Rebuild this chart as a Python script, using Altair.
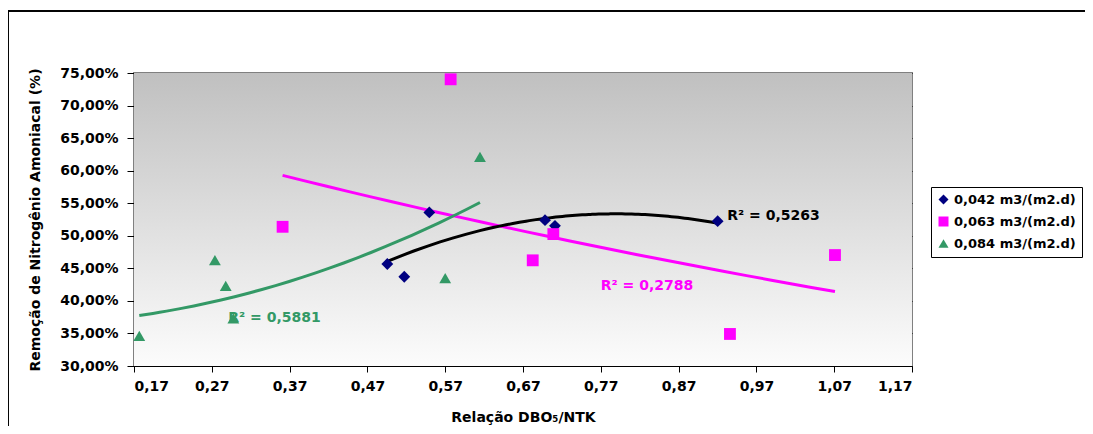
import altair as alt
import pandas as pd

# ---- data ----
series_names = ["0,042 m3/(m2.d)", "0,063 m3/(m2.d)", "0,084 m3/(m2.d)"]

x_042 = [0.4956, 0.5174, 0.5496, 0.6983, 0.7111, 0.9202]
y_042 = [45.66, 43.71, 53.59, 52.40, 51.53, 52.25]

x_063 = [0.361, 0.577, 0.6825, 0.709, 0.936, 1.071]
y_063 = [51.38, 74.03, 46.23, 50.26, 34.92, 47.04]

x_084 = [0.1768, 0.274, 0.2879, 0.2977, 0.570, 0.6147]
y_084 = [34.62, 46.27, 42.29, 37.33, 43.51, 62.12]

x_ticks = [0.17, 0.27, 0.37, 0.47, 0.57, 0.67, 0.77, 0.87, 0.97, 1.07, 1.17]
y_ticks = [30, 35, 40, 45, 50, 55, 60, 65, 70, 75]

r2_texts = ["R² = 0,5263", "R² = 0,2788", "R² = 0,5881"]
r2_x = [0.9326, 0.770, 0.2912]
r2_y = [53.07, 42.29, 37.33]

marker_colors = ["#000080", "#FF00FF", "#339966"]
trend_colors = ["#000000", "#FF00FF", "#339966"]
shapes = ["diamond", "square", "triangle-up"]

rows = []
for name, xs_, ys_ in zip(series_names, [x_042, x_063, x_084], [y_042, y_063, y_084]):
    for a, b in zip(xs_, ys_):
        rows.append({"serie": name, "x": a, "y": b})
df = pd.DataFrame(rows)

lab = pd.DataFrame({"x": r2_x, "y": r2_y, "text": r2_texts, "c": trend_colors})

W, H = 778, 293
PL, PT = 126, 65
PR, PB = 1077 - PL - W, 418 - PT - H
FONT = "DejaVu Sans"
xs = alt.Scale(domain=[0.17, 1.17], nice=False, zero=False)
ys = alt.Scale(domain=[30, 75], nice=False, zero=False)

xaxis = alt.Axis(
    values=x_ticks, title="Relação DBO₅/NTK", grid=False, labelOverlap=False,
    labelExpr="replace(format(datum.value, '.2f'), '.', ',')", titleFontSize=14,
    tickSize=6, labelPadding=7, titlePadding=17, domainColor="black", tickColor="black")
yaxis = alt.Axis(
    values=y_ticks, title="Remoção de Nitrogênio Amoniacal (%)", grid=True, gridColor="black",
    gridWidth=1, labelOverlap=False,
    labelExpr="replace(format(datum.value, '.2f'), '.', ',') + '%'",
    tickSize=7, labelPadding=9, titlePadding=17, domainColor="black", tickColor="black")
xenc = alt.X("x:Q", scale=xs, axis=xaxis)
yenc = alt.Y("y:Q", scale=ys, axis=yaxis)

base = alt.Chart(df)

bg = alt.Chart(lab).mark_rect(
    color=alt.Gradient(gradient="linear", x1=0, x2=0, y1=0, y2=1,
                       stops=[alt.GradientStop(color="#c0c0c0", offset=0),
                              alt.GradientStop(color="#fcfcfc", offset=1)])
).encode(x=alt.value(0), x2=alt.value(W), y=alt.value(0), y2=alt.value(H))

# polynomial (order 2) trends
trend1 = base.transform_filter(alt.datum.serie == series_names[0]).transform_regression(
    "x", "y", method="poly", order=2).mark_line(color=trend_colors[0], strokeWidth=3).encode(x=xenc, y=yenc)
trend3 = base.transform_filter(alt.datum.serie == series_names[2]).transform_regression(
    "x", "y", method="poly", order=2).mark_line(color=trend_colors[2], strokeWidth=3).encode(x=xenc, y=yenc)
# Excel-style exponential trend: least squares on ln(y)
trend2 = base.transform_filter(alt.datum.serie == series_names[1]).transform_calculate(
    ly="log(datum.y)").transform_regression("x", "ly", method="poly", order=1).transform_calculate(
    y="exp(datum.ly)").mark_line(color=trend_colors[1], strokeWidth=3).encode(x=xenc, y=yenc)

points = base.mark_point(filled=True, opacity=1, size=140, strokeWidth=0).encode(
    x=xenc, y=yenc,
    color=alt.Color("serie:N", scale=alt.Scale(domain=series_names, range=marker_colors), title=None),
    shape=alt.Shape("serie:N", scale=alt.Scale(domain=series_names, range=shapes), title=None),
)

labels = alt.Chart(lab).mark_text(align="left", baseline="middle", font=FONT, fontWeight="bold",
                                  fontSize=14).encode(
    x=xenc, y=yenc, text="text:N", color=alt.Color("c:N", scale=None))

frame_top = alt.Chart(lab).mark_rule(color="black", strokeWidth=1.5, clip=False).encode(
    x=alt.value(-126), x2=alt.value(W + PR + 10), y=alt.value(-62))
frame_left = alt.Chart(lab).mark_rule(color="black", strokeWidth=1.5, clip=False).encode(
    x=alt.value(-126), y=alt.value(-62), y2=alt.value(H + PB + 10))

chart = alt.layer(bg, frame_top, frame_left, trend2, trend3, trend1, points, labels).properties(
    width=W, height=H,
    autosize=alt.AutoSizeParams(type="none"),
    padding={"left": PL, "top": PT, "right": PR, "bottom": PB},
).configure_view(
    stroke="#808080", strokeWidth=2,
).configure_axis(
    labelFont=FONT, labelFontWeight="bold", labelFontSize=14, labelColor="black",
    titleFont=FONT, titleFontWeight="bold", titleFontSize=14, titleColor="black",
).configure_legend(
    orient="none", legendX=797, legendY=114, strokeColor="black", strokeWidth=1,
    fillColor="white", padding=6, labelFont=FONT, labelFontWeight="bold", labelFontSize=13,
    labelColor="black", symbolSize=100, rowPadding=8, symbolStrokeWidth=0,
)

chart.save("out.html", embed_options={"renderer": "svg", "actions": False})
